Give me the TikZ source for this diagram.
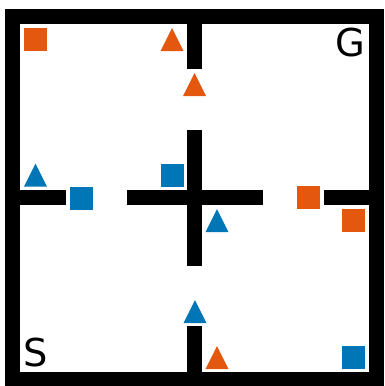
\documentclass[tikz,border=0pt]{standalone}
\usepackage{fontspec}
\setmainfont{DejaVu Sans}
\definecolor{vermil}{RGB}{227,88,14}
\definecolor{skyb}{RGB}{0,118,182}
\begin{document}
\begin{tikzpicture}[x=1pt,y=-1pt,
  wall/.style={line width=14.8pt,line cap=butt,line join=miter},
  sq/.style={rectangle,minimum size=23pt,inner sep=0pt,outer sep=0pt,fill=#1},
  lbl/.style={inner sep=0pt,anchor=base,font=\fontsize{38.4}{40}\selectfont},
  tri/.pic={\fill[pic actions] (-11.5,11.5) -- (0,-11.5) -- (11.5,11.5) -- cycle;}]
\useasboundingbox[fill=white] (0,0) rectangle (384,386);
% outer frame
\draw[wall] (12.5,16.2) rectangle (376.6,379.1);
% vertical inner wall
\coordinate (vt1) at (194.5,16);  \coordinate (vt2) at (194.5,69);
\coordinate (vm1) at (194.5,130); \coordinate (vm2) at (194.5,266);
\coordinate (vb1) at (194.5,326); \coordinate (vb2) at (194.5,379);
\draw[wall] (vt1) -- (vt2);
\draw[wall] (vm1) -- (vm2);
\draw[wall] (vb1) -- (vb2);
% horizontal inner wall
\coordinate (hl1) at (12.5,197.5);  \coordinate (hl2) at (66,197.5);
\coordinate (hm1) at (127,197.5);   \coordinate (hm2) at (263,197.5);
\coordinate (hr1) at (324,197.5);   \coordinate (hr2) at (376.5,197.5);
\draw[wall] (hl1) -- (hl2);
\draw[wall] (hm1) -- (hm2);
\draw[wall] (hr1) -- (hr2);
% squares
\node[sq=vermil] (s1) at (35.5,39.5) {};
\node[sq=skyb] (s2) at (81,198.5) {};
\node[sq=skyb] (s3) at (172,175) {};
\node[sq=vermil] (s4) at (308.5,197.5) {};
\node[sq=vermil] (s5) at (353.5,220.5) {};
\node[sq=skyb] (s6) at (353.5,357.5) {};
% triangles
\pic[fill=vermil] (t1) at (172,39.5) {tri};
\pic[fill=vermil] (t2) at (194.5,84.5) {tri};
\pic[fill=skyb] (t3) at (35.5,175) {tri};
\pic[fill=skyb] (t4) at (217,220.5) {tri};
\pic[fill=skyb] (t5) at (195,311.5) {tri};
\pic[fill=vermil] (t6) at (217,357.5) {tri};
% labels
\node[lbl] (G) at (350.5,56) {G};
\node[lbl] (S) at (35.5,366) {S};
\end{tikzpicture}
\end{document}
